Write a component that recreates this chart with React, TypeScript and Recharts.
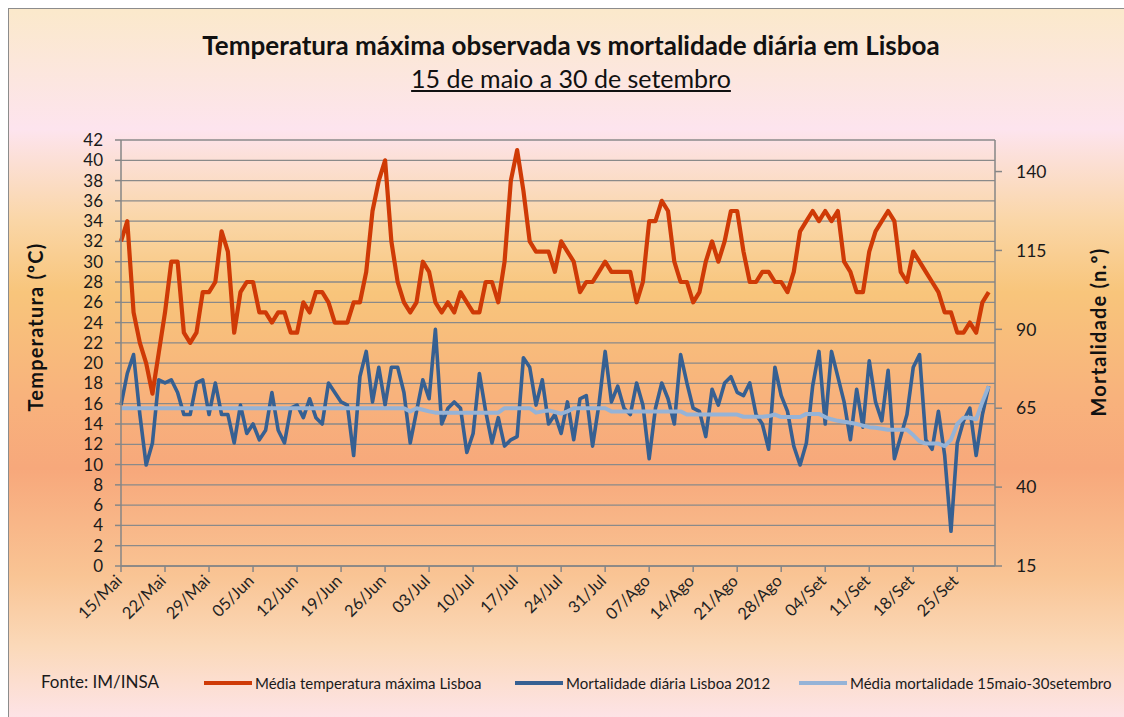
import React from "react";
import { LineChart, Line, XAxis, YAxis, CartesianGrid } from "recharts";

// Max temperature (ºC), one value per day from 15/Mai to 30/Set
const TEMP = [
  32, 34, 25, 22, 20, 17, 21, 25, 30, 30, 23, 22, 23, 27, 27, 28, 33, 31, 23, 27,
  28, 28, 25, 25, 24, 25, 25, 23, 23, 26, 25, 27, 27, 26, 24, 24, 24, 26, 26, 29,
  35, 38, 40, 32, 28, 26, 25, 26, 30, 29, 26, 25, 26, 25, 27, 26, 25, 25, 28, 28,
  26, 30, 38, 41, 37, 32, 31, 31, 31, 29, 32, 31, 30, 27, 28, 28, 29, 30, 29, 29,
  29, 29, 26, 28, 34, 34, 36, 35, 30, 28, 28, 26, 27, 30, 32, 30, 32, 35, 35, 31,
  28, 28, 29, 29, 28, 28, 27, 29, 33, 34, 35, 34, 35, 34, 35, 30, 29, 27, 27, 31,
  33, 34, 35, 34, 29, 28, 31, 30, 29, 28, 27, 25, 25, 23, 23, 24, 23, 26, 27,
];

// Daily deaths, Lisboa 2012
const MORT = [
  66, 76, 82, 63, 47, 54, 74, 73, 74, 70, 63, 63, 73, 74, 63, 73, 63, 63, 54, 66,
  57, 60, 55, 58, 70, 58, 54, 65, 66, 62, 68, 62, 60, 73, 70, 67, 66, 50, 75, 83,
  67, 78, 66, 78, 78, 70, 54, 64, 74, 68, 90, 60, 65, 67, 65, 51, 57, 76, 64, 54,
  62, 53, 55, 56, 81, 78, 66, 74, 60, 63, 57, 67, 55, 68, 69, 53, 66, 83, 67, 72,
  65, 63, 73, 66, 49, 65, 73, 68, 60, 82, 73, 65, 64, 56, 71, 66, 73, 75, 70, 69,
  73, 63, 60, 52, 78, 69, 64, 53, 47, 54, 72, 83, 60, 83, 75, 67, 55, 71, 59, 80,
  67, 61, 77, 49, 56, 63, 78, 82, 55, 52, 64, 50, 26, 54, 61, 65, 50, 63, 72,
];

// Average mortality 15 May - 30 Sep
const MEAN = [
  65, 65, 65, 65, 65, 65, 65, 65, 65, 65, 65, 65, 65, 65, 65, 65, 65, 65, 65, 65,
  65, 65, 65, 65, 65, 65, 65, 65, 65, 65, 65, 65, 65, 65, 65, 65, 65, 65, 65, 65,
  65, 65, 65, 65, 65, 65, 64, 65, 64.5, 64, 63.6, 63.6, 63.6, 63.6, 63.6, 63.6, 63.6, 63.6, 63.6, 63.6,
  63.6, 65, 65, 65, 65, 65, 63.6, 64, 64.3, 63.8, 63.3, 64, 65, 65, 65, 65, 65, 65, 64, 64,
  64, 64, 64, 64, 64, 64, 64, 64, 64, 64, 63, 63, 63, 63, 63, 63, 63, 63, 63, 62.3,
  62.3, 62.3, 62.3, 62.5, 63, 62.2, 62.2, 62.2, 62.2, 63.2, 63.2, 63.2, 62.2, 61.5, 61, 60.7, 60.4, 60, 59.5, 59,
  58.8, 58.5, 58.2, 58.2, 58.2, 58.2, 56.5, 54.5, 53.8, 53.8, 53.8, 53, 55, 60, 62, 62, 61.5, 67, 72,
];

const TICK_LABELS = [
  "15/Mai", "22/Mai", "29/Mai", "05/Jun", "12/Jun", "19/Jun", "26/Jun", "03/Jul", "10/Jul", "17/Jul",
  "24/Jul", "31/Jul", "07/Ago", "14/Ago", "21/Ago", "28/Ago", "04/Set", "11/Set", "18/Set", "25/Set",
];
const TEMP_TICKS = [0, 2, 4, 6, 8, 10, 12, 14, 16, 18, 20, 22, 24, 26, 28, 30, 32, 34, 36, 38, 40, 42];
const MORT_TICKS = [15, 40, 65, 90, 115, 140];

const RED = "#cf3a06";
const BLUE = "#366092";
const LIGHT = "#95b3d7";
const FONT = "Lato, 'Open Sans', sans-serif";

const data = TEMP.map((t, i) => ({ idx: i, temp: t, mort: MORT[i], mean: MEAN[i] }));
const xTicks = TICK_LABELS.map((_, k) => k * 7);

const XTick = (props: any) => {
  const { x, y, payload } = props;
  const label = TICK_LABELS[Math.round(payload.value / 7)];
  const tx = x + 2;
  const ty = y + 8;
  return (
    <text x={tx} y={ty} transform={`rotate(-45 ${tx} ${ty})`} textAnchor="end" fontSize={16.5} fontFamily={FONT} fill="#222">
      {label}
    </text>
  );
};

const LegendItem = ({ left, color, text }: { left: number; color: string; text: string }) => (
  <div style={{ position: "absolute", left, top: 665, display: "flex", alignItems: "center", whiteSpace: "nowrap" }}>
    <span style={{ display: "inline-block", width: 48, height: 4, background: color, marginRight: 3 }} />
    <span style={{ fontSize: 15, color: "#1a1a1a" }}>{text}</span>
  </div>
);

const axisTitle: React.CSSProperties = {
  position: "absolute",
  transform: "translate(-50%, -50%) rotate(-90deg)",
  whiteSpace: "nowrap",
  fontSize: 20,
  letterSpacing: 1.2,
  fontWeight: 700,
  color: "#111",
};

export default function App() {
  return (
    <div
      style={{
        position: "absolute",
        left: 8,
        top: 8,
        width: 1116,
        height: 709,
        borderLeft: "1.5px solid #8c8c8c",
        borderTop: "1.5px solid #8c8c8c",
        boxSizing: "border-box",
        overflow: "hidden",
        fontFamily: FONT,
        background:
          "linear-gradient(to bottom, #fbe9cb 0%, #fde4ee 17%, #fad6a6 30%, #f8c57b 40%, #f8b27c 55%, #f7a87b 65%, #f9c494 80%, #fbd9b9 90%, #fde3e6 100%)",
      }}
    >
      <div style={{ position: "absolute", left: 562, top: 20, transform: "translateX(-50%)", whiteSpace: "nowrap", fontSize: 26, fontWeight: 700, color: "#111" }}>
        Temperatura máxima observada vs mortalidade diária em Lisboa
      </div>
      <div style={{ position: "absolute", left: 562, top: 54, transform: "translateX(-50%)", whiteSpace: "nowrap", fontSize: 25, color: "#111", textDecoration: "underline" }}>
        15 de maio a 30 de setembro
      </div>

      <div style={{ ...axisTitle, left: 26, top: 318 }}>Temperatura (ºC)</div>
      <div style={{ ...axisTitle, left: 1089, top: 323 }}>Mortalidade (n.º)</div>

      <LineChart width={1116} height={709} data={data} margin={{ top: 131, right: 0, bottom: 0, left: 0 }} style={{ position: "absolute", left: 0, top: 0 }}>
        <CartesianGrid horizontal vertical={false} stroke="#8a8a8a" strokeWidth={1.3} />
        <XAxis
          dataKey="idx"
          type="number"
          domain={[0, 139]}
          ticks={xTicks}
          interval={0}
          height={152}
          tickSize={6}
          tickMargin={2}
          tick={<XTick />}
          axisLine={{ stroke: "#868686", strokeWidth: 1.5 }}
          tickLine={{ stroke: "#868686", strokeWidth: 1.5 }}
        />
        <YAxis
          type="number"
          domain={[0, 42]}
          ticks={TEMP_TICKS}
          interval={0}
          width={112}
          tickSize={6}
          tickMargin={12}
          tick={{ fontSize: 17, fill: "#1a1a1a", fontFamily: FONT }}
          axisLine={{ stroke: "#868686", strokeWidth: 1.5 }}
          tickLine={{ stroke: "#868686", strokeWidth: 1.5 }}
        />
        <YAxis
          yAxisId="right"
          orientation="right"
          type="number"
          domain={[15, 150]}
          ticks={MORT_TICKS}
          interval={0}
          width={130}
          tickSize={7}
          tickMargin={14}
          tick={{ fontSize: 17.5, fill: "#1a1a1a", fontFamily: FONT, textAnchor: "start" }}
          axisLine={{ stroke: "#868686", strokeWidth: 1.5 }}
          tickLine={{ stroke: "#868686", strokeWidth: 1.5 }}
        />
        <Line type="linear" dataKey="temp" stroke={RED} strokeWidth={4.2} dot={false} isAnimationActive={false} strokeLinejoin="round" />
        <Line yAxisId="right" type="linear" dataKey="mort" stroke={BLUE} strokeWidth={3.6} dot={false} isAnimationActive={false} strokeLinejoin="round" />
        <Line yAxisId="right" type="linear" dataKey="mean" stroke={LIGHT} strokeWidth={4} dot={false} isAnimationActive={false} strokeLinejoin="round" />
      </LineChart>

      <div style={{ position: "absolute", left: 32, top: 662, fontSize: 17, color: "#1a1a1a", whiteSpace: "nowrap" }}>Fonte: IM/INSA</div>
      <LegendItem left={195} color={RED} text="Média temperatura máxima Lisboa" />
      <LegendItem left={506} color={BLUE} text="Mortalidade diária Lisboa 2012" />
      <LegendItem left={790} color={LIGHT} text="Média mortalidade 15maio-30setembro" />
    </div>
  );
}
